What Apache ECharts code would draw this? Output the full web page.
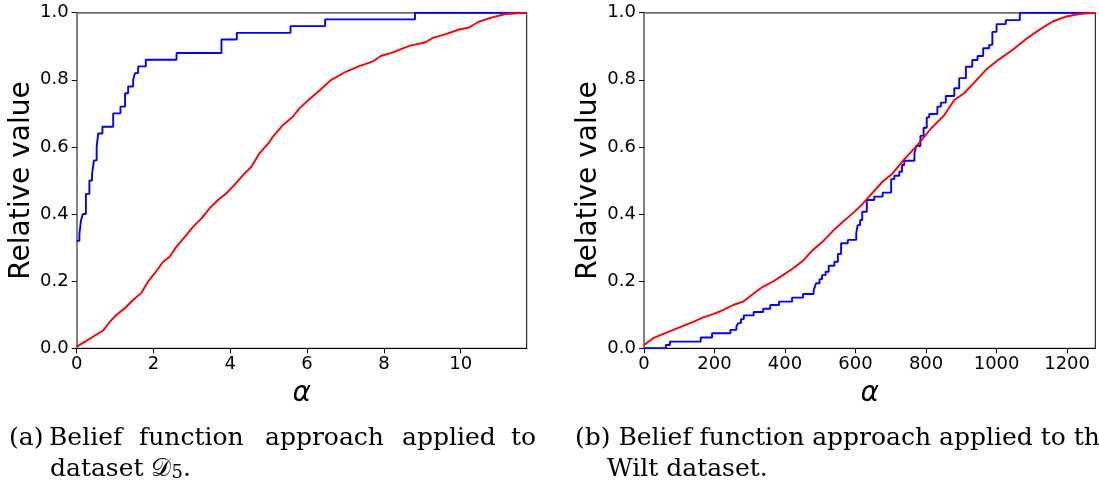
<!DOCTYPE html>
<html>
<head>
<meta charset="utf-8">
<script src="https://cdn.jsdelivr.net/npm/echarts@6/dist/echarts.min.js"></script>
<style>
html,body{margin:0;padding:0;background:#fff;}
#c{width:1099px;height:494px;}
</style>
</head>
<body>
<div id="c"></div>
<script>
// ---- data ----
const xTicksA = [0, 2, 4, 6, 8, 10];
const xTicksB = [0, 200, 400, 600, 800, 1000, 1200];
const yTicks = [0, 0.2, 0.4, 0.6, 0.8, 1.0];

const blueA_x = [0, 0.07, 0.11, 0.16, 0.24, 0.33, 0.40, 0.45, 0.52, 0.56, 0.67, 0.95, 1.14, 1.26, 1.34, 1.47, 1.52, 1.60, 1.80, 2.60, 3.77, 4.17, 5.57, 6.47, 8.81, 11.72];
const blueA_y = [0.32, 0.34, 0.38, 0.40, 0.46, 0.50, 0.52, 0.56, 0.60, 0.64, 0.66, 0.70, 0.72, 0.76, 0.78, 0.80, 0.82, 0.84, 0.86, 0.88, 0.92, 0.94, 0.96, 0.98, 1.00, 1.00];

const redA_x = [0, 0.22, 0.43, 0.69, 0.87, 1.04, 1.26, 1.47, 1.69, 1.86, 2.03, 2.25, 2.42, 2.60, 2.81, 3.03, 3.25, 3.46, 3.68, 3.90, 4.11, 4.33, 4.55, 4.76, 5.00, 5.11, 5.37, 5.63, 5.80, 6.06, 6.36, 6.62, 7.01, 7.36, 7.70, 7.92, 8.22, 8.66, 9.09, 9.26, 9.61, 9.96, 10.22, 10.47, 10.82, 11.17, 11.72];
const redA_y = [0.005, 0.02, 0.035, 0.053, 0.08, 0.10, 0.12, 0.144, 0.166, 0.199, 0.223, 0.258, 0.273, 0.303, 0.331, 0.362, 0.387, 0.417, 0.442, 0.462, 0.487, 0.516, 0.541, 0.581, 0.612, 0.631, 0.665, 0.690, 0.715, 0.742, 0.772, 0.799, 0.824, 0.841, 0.854, 0.871, 0.881, 0.901, 0.912, 0.924, 0.936, 0.950, 0.956, 0.973, 0.986, 0.996, 1.0];

const blueB_x = [0, 62, 73.5, 161, 193, 245, 262, 267, 275, 283, 311, 338, 358, 383, 420, 451, 481, 485, 488, 498, 505, 515, 524, 540, 550, 559, 578, 602, 606, 613, 619, 632, 653, 677, 701, 710, 724, 732, 738, 767, 772, 784, 793, 802, 809, 832, 842, 856, 880, 894, 913, 931, 946, 962, 979, 988, 1000, 1026, 1066, 1280];
const blueB_y = [0, 0.01, 0.02, 0.032, 0.045, 0.055, 0.065, 0.075, 0.087, 0.098, 0.108, 0.118, 0.129, 0.139, 0.151, 0.162, 0.173, 0.184, 0.194, 0.206, 0.218, 0.228, 0.246, 0.258, 0.281, 0.313, 0.323, 0.343, 0.367, 0.382, 0.407, 0.442, 0.452, 0.464, 0.504, 0.514, 0.526, 0.546, 0.559, 0.58, 0.603, 0.633, 0.657, 0.688, 0.698, 0.72, 0.732, 0.752, 0.775, 0.805, 0.839, 0.859, 0.871, 0.894, 0.904, 0.943, 0.966, 0.978, 1.0, 1.0];

const redB_x = [0, 26, 55, 83, 111, 140, 168, 196, 224, 253, 281, 309, 338, 366, 394, 422, 451, 479, 507, 536, 564, 592, 620, 639, 677, 705, 738, 776, 814, 852, 880, 908, 936, 969, 1007, 1045, 1083, 1120, 1158, 1196, 1233, 1280];
const redB_y = [0.01, 0.03, 0.043, 0.055, 0.067, 0.079, 0.092, 0.102, 0.114, 0.129, 0.139, 0.162, 0.184, 0.199, 0.218, 0.238, 0.261, 0.293, 0.318, 0.350, 0.377, 0.402, 0.430, 0.453, 0.497, 0.521, 0.563, 0.606, 0.655, 0.695, 0.740, 0.760, 0.791, 0.829, 0.861, 0.889, 0.921, 0.948, 0.973, 0.988, 0.996, 1.0];

const xMaxA = 11.72;
const xMaxB = 1280;

const zip = (xs, ys) => xs.map((x, i) => [x, ys[i]]);

// ---- styling ----
const SANS = 'DejaVu Sans';
const SERIF = 'DejaVu Serif';
const tickFont = {fontFamily: SANS, fontSize: 18, color: '#000'};

function bottomAxis(grid, max, ticks) {
  return {
    type: 'value', gridIndex: grid, min: 0, max: max, position: 'bottom',
    name: 'α', nameLocation: 'middle', nameGap: 31,
    nameTextStyle: {fontFamily: SANS, fontSize: 28, fontStyle: 'italic', color: '#000'},
    axisLine: {show: true, onZero: false, lineStyle: {color: '#000', width: 1}},
    axisTick: {show: true, inside: false, length: 5, customValues: ticks, lineStyle: {color: '#000'}},
    axisLabel: Object.assign({margin: 7, customValues: ticks, formatter: v => String(v)}, tickFont),
    splitLine: {show: false}
  };
}
function topAxis(grid, max) {
  return {
    type: 'value', gridIndex: grid, min: 0, max: max, position: 'top',
    axisLine: {show: true, onZero: false, lineStyle: {color: '#7f7f7f', width: 1.5}},
    axisTick: {show: false}, axisLabel: {show: false}, splitLine: {show: false}
  };
}
function leftAxis(grid) {
  return {
    type: 'value', gridIndex: grid, min: 0, max: 1, position: 'left',
    name: 'Relative value', nameLocation: 'middle', nameGap: 41, nameRotate: 90,
    nameTextStyle: {fontFamily: SANS, fontSize: 28, color: '#000'},
    axisLine: {show: true, onZero: false, lineStyle: {color: '#7f7f7f', width: 2}},
    axisTick: {show: true, inside: false, length: 5, customValues: yTicks, lineStyle: {color: '#000'}},
    axisLabel: Object.assign({margin: 8, customValues: yTicks, formatter: v => v.toFixed(1)}, tickFont),
    splitLine: {show: false}
  };
}
function lineSeries(xi, yi, data, color, step) {
  return {
    type: 'line', xAxisIndex: xi, yAxisIndex: yi, data: data, step: step || false,
    showSymbol: false, symbol: 'none', lineStyle: {color: color, width: 1.9}, z: 3
  };
}

const chart = echarts.init(document.getElementById('c'), null, {renderer: 'canvas'});
chart.setOption({
  animation: false,
  backgroundColor: '#fff',
  grid: [
    {left: 76.7, top: 12.7, width: 450, height: 335.6, show: true, borderColor: '#000', borderWidth: 1, backgroundColor: 'transparent'},
    {left: 644, top: 12.7, width: 451.3, height: 335.6, show: true, borderColor: '#000', borderWidth: 1, backgroundColor: 'transparent'}
  ],
  xAxis: [bottomAxis(0, xMaxA, xTicksA), bottomAxis(1, xMaxB, xTicksB), topAxis(0, xMaxA), topAxis(1, xMaxB)],
  yAxis: [leftAxis(0), leftAxis(1)],
  series: [
    lineSeries(0, 0, zip(blueA_x, blueA_y), '#0000ff', 'end'),
    lineSeries(0, 0, zip(redA_x, redA_y), '#ff0000'),
    lineSeries(1, 1, zip(blueB_x, blueB_y), '#0000ff', 'end'),
    lineSeries(1, 1, zip(redB_x, redB_y), '#ff0000')
  ],
  graphic: [
    {type: 'text', left: 9, top: 426, style: {text: '(a)', font: '25px "DejaVu Serif"', fill: '#000'}},
    {type: 'text', left: 49, top: 426, style: {text: 'Belief', font: '25px "DejaVu Serif"', fill: '#000'}},
    {type: 'text', left: 139, top: 426, style: {text: 'function', font: '25px "DejaVu Serif"', fill: '#000'}},
    {type: 'text', left: 265, top: 426, style: {text: 'approach', font: '25px "DejaVu Serif"', fill: '#000'}},
    {type: 'text', left: 402, top: 426, style: {text: 'applied', font: '25px "DejaVu Serif"', fill: '#000'}},
    {type: 'text', left: 511, top: 426, style: {text: 'to', font: '25px "DejaVu Serif"', fill: '#000'}},
    {type: 'text', left: 50, top: 457, style: {
      text: '{a|dataset 𝒟}{s|5}{a|.}',
      rich: {a: {fontFamily: SERIF, fontSize: 25, color: '#000'}, s: {fontFamily: SERIF, fontSize: 18, color: '#000', padding: [8, 0, 0, 0]}}
    }},
    {type: 'text', left: 575, top: 426, style: {text: '(b) Belief function approach applied to the', font: '25px "DejaVu Serif"', fill: '#000'}},
    {type: 'text', left: 607, top: 457, style: {text: 'Wilt dataset.', font: '25px "DejaVu Serif"', fill: '#000'}}
  ]
});
</script>
</body>
</html>
